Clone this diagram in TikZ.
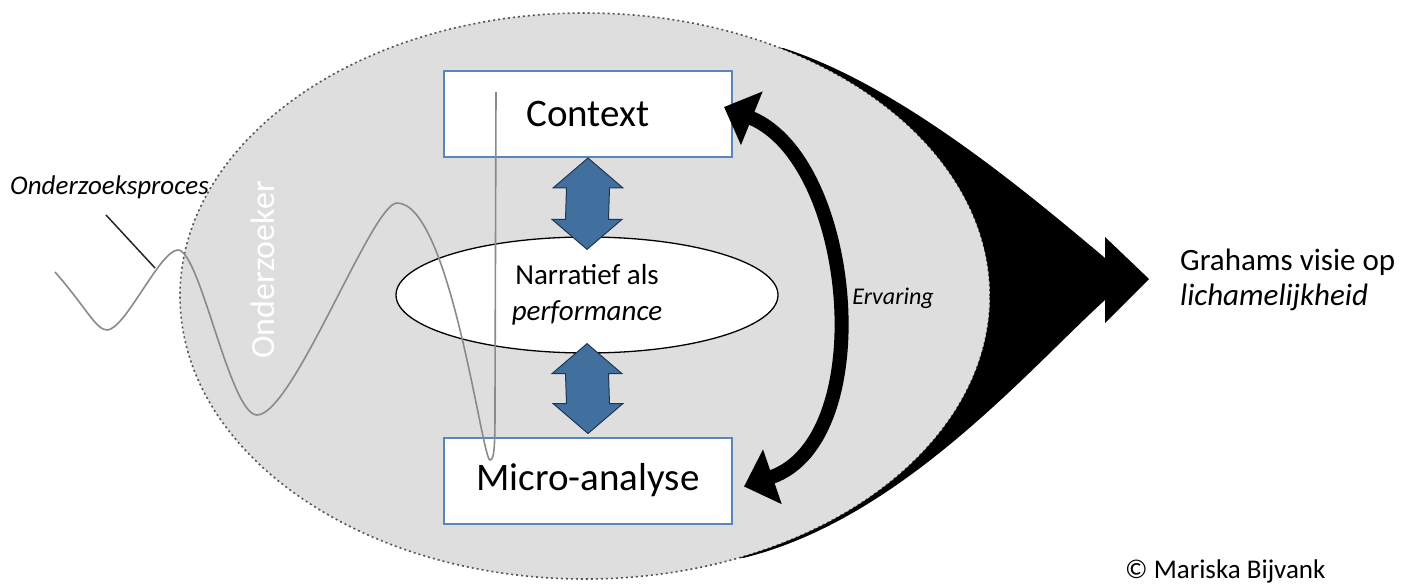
\documentclass[tikz,border=0pt]{standalone}
\usepackage{fontspec}
\setmainfont{Carlito}
\usetikzlibrary{arrows.meta,shapes.geometric,calc}
\definecolor{cShade}{HTML}{DEDEDE}
\definecolor{cRim}{HTML}{555555}
\definecolor{cFrame}{HTML}{5A86BC}
\definecolor{cBlock}{HTML}{41709F}
\definecolor{cBlockRim}{HTML}{1F3550}
\definecolor{cWave}{HTML}{8A8A8A}
\tikzset{
  field/.style={ellipse,draw=cRim,fill=cShade,line width=1.6pt,dash pattern=on 2pt off 3pt,
                minimum width=810pt,minimum height=566pt,inner sep=0pt},
  framebox/.style={draw=cFrame,fill=white,line width=2pt,minimum width=288pt,minimum height=86pt,
                   font=\fontsize{39}{47}\selectfont},
  oval/.style={ellipse,draw=black,fill=white,line width=1.3pt,minimum width=382pt,minimum height=116pt,
               align=center,inner sep=0pt,font=\fontsize{29}{36}\selectfont},
  blockarrow/.style={fill=cBlock,draw=cBlockRim,line width=1pt,line join=miter},
  loop/.style={{Triangle[width=56pt,length=30pt]}-{Triangle[width=56pt,length=30pt]},line width=14pt,draw=black},
  wave/.style={draw=cWave,line width=1.6pt},
  lead/.style={draw=black!85,line width=1.5pt},
  caption/.style={inner sep=0pt,font=\fontsize{27}{32}\selectfont\itshape}
}
\begin{document}
\begin{tikzpicture}[x=1pt,y=-1pt]
  \useasboundingbox (0,0) rectangle (1415,585);
  \clip (0,0) rectangle (1415,585);
  \fill[white] (0,0) rectangle (1415,585);

  \node[field] (field) at (585,296) {};
  \fill[black] (783,48) .. controls (900,85) and (1030,195) .. (1105,258) -- (1105,237) -- (1149,279)
    -- (1105,323) -- (1105,300) .. controls (1028,370) and (900,520) .. (743,558)
    -- plot[domain=67.5:-61.1,samples=60] ({585+405*cos(\x)},{296+283*sin(\x)}) -- cycle;

  \node[framebox] (ctx) at (588,114) {Context};
  \node[framebox] (micro) at (588,480.5) {Micro-analyse};
  \node[oval] (narr) at (587,295) {Narratief als\\\textit{performance}};

  \coordinate (a1t) at (ctx.south);
  \coordinate (a1b) at ($(narr.north)+(0,13)$);
  \coordinate (a2t) at ($(narr.south)+(0,-10)$);
  \coordinate (a2b) at ($(micro.north)+(0,-3)$);
  \foreach \t/\b in {a1t/a1b,a2t/a2b} {
    \draw[blockarrow] (\t) -- ++(35,30) -- ++(-13.5,0) -- ($(\b)+(21.5,-30)$) -- ++(13.5,0) -- (\b)
      -- ++(-35,-30) -- ++(13.5,0) -- ($(\t)+(-21.5,30)$) -- ++(-13.5,0) -- cycle;
  }

  \coordinate (upTip) at ($(ctx.east)+(-9,-7)$);
  \coordinate (lowTip) at ($(micro.east)+(11,6)$);
  \draw[loop] (upTip) .. controls (855,160) and (880,440) .. (lowTip);
  \node[caption,font=\fontsize{24}{29}\selectfont\itshape] (exp) at (893,298) {Ervaring};

  \draw[wave] (55,272) .. controls (85,306) and (96,330) .. (107,330)
    .. controls (125,330) and (160,250) .. (178,250)
    .. controls (200,250) and (230,415) .. (257,415)
    .. controls (293,415) and (372,203) .. (397,203)
    .. controls (450,203) and (482,460) .. (490,460)
    .. controls (495,460) and (495,440) .. (495,400) -- (496,92);

  \node[caption,anchor=base west] (proces) at (10,195) {Onderzoeksproces};
  \coordinate (leadstart) at (106,215);
  \coordinate (onwave) at (155,268);
  \draw[lead] (leadstart) -- (onwave);

  \node[rotate=90,text=white,inner sep=0pt,font=\fontsize{34}{40}\selectfont] (researcher) at (263,270) {Onderzoeker};

  \node[anchor=west,align=left,inner sep=0pt,font=\fontsize{31}{35}\selectfont] (graham) at (1180,280)
    {Grahams visie op\\\textit{lichamelijkheid}};
  \node[anchor=base west,inner sep=0pt,font=\fontsize{27}{32}\selectfont] (copy) at (1125,578) {© Mariska Bijvank};
\end{tikzpicture}
\end{document}
